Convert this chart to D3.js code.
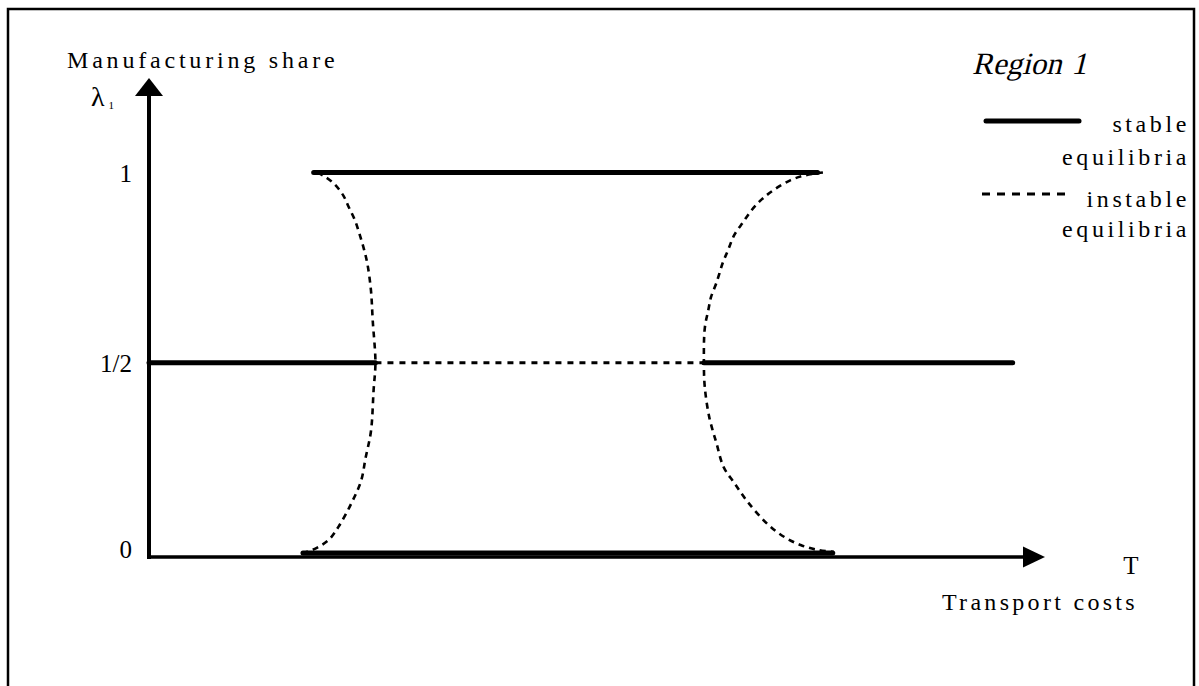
<!DOCTYPE html>
<html>
<head>
<meta charset="utf-8">
<script src="https://cdn.jsdelivr.net/npm/d3@7"></script>
<style>
  body { margin: 0; background: #fff; }
  svg text { font-family: "Liberation Serif", "Times New Roman", serif; fill: #000; }
</style>
</head>
<body>
<script>
// chart values (T = transport costs, lambda = manufacturing share of region 1)
var tickValues = [0, 0.5, 1];
var tickLabels = ["0", "1/2", "1"];

// stable equilibria segments: [T start, T end, lambda]
var stableSegments = [
  [18.4, 74.7, 1],
  [0, 25.3, 0.5],
  [62.0, 96.5, 0.5],
  [17.2, 76.4, 0]
];
// instable equilibria on the symmetric line
var instableSegments = [
  [25.3, 62.0, 0.5]
];

// left bifurcation curve, top to bottom
var leftCurveT =      [18.8, 19.6, 20.7, 21.7, 22.3, 23.0, 23.5, 24.0, 24.4, 24.8, 25.0, 25.3, 25.1, 24.8, 24.2, 23.7, 22.6, 21.2, 20.1, 18.7, 17.3];
var leftCurveLambda = [1.0, 0.99, 0.97, 0.94, 0.91, 0.875, 0.84, 0.80, 0.76, 0.69, 0.61, 0.5, 0.43, 0.32, 0.25, 0.19, 0.13, 0.07, 0.035, 0.013, 0];

// right bifurcation curve, top to bottom
var rightCurveT =      [75.3, 73.4, 71.7, 69.8, 68.4, 67.3, 66.4, 65.4, 64.7, 64.1, 63.4, 62.8, 62.5, 62.1, 62.0, 62.1, 62.6, 63.4, 64.2, 65.4, 66.9, 69.2, 71.0, 72.8, 74.7, 76.5];
var rightCurveLambda = [1.0, 0.993, 0.98, 0.954, 0.928, 0.90, 0.87, 0.836, 0.796, 0.762, 0.71, 0.673, 0.639, 0.591, 0.5, 0.436, 0.357, 0.289, 0.226, 0.184, 0.134, 0.074, 0.042, 0.021, 0.008, 0.003];

var width = 1199, height = 686;
var serif = "'Liberation Serif', 'Times New Roman', serif";

var svg = d3.select("body").append("svg")
    .attr("width", width)
    .attr("height", height);

// frame (open at the bottom)
svg.append("path")
    .attr("d", "M8,686 L8,9 L1194,9 L1194,686")
    .attr("fill", "none")
    .attr("stroke", "#000")
    .attr("stroke-width", 2.5);

// set the ranges
var x = d3.scaleLinear().domain([0, 100]).range([149, 1044]);
var y = d3.scaleLinear().domain([0, 1]).range([553, 172.5]);

var axisY = 557;

// axes with arrow heads
svg.append("line")
    .attr("x1", x(0)).attr("x2", x(0))
    .attr("y1", axisY + 2).attr("y2", 92)
    .attr("stroke", "#000").attr("stroke-width", 4);
svg.append("path")
    .attr("d", "M" + (x(0) - 14) + ",96 L" + x(0) + ",78 L" + (x(0) + 14) + ",96 Z")
    .attr("fill", "#000");

svg.append("line")
    .attr("x1", x(0) - 2).attr("x2", 1026)
    .attr("y1", axisY).attr("y2", axisY)
    .attr("stroke", "#000").attr("stroke-width", 3.5);
svg.append("path")
    .attr("d", "M1023," + (axisY - 10.5) + " L1045," + axisY + " L1023," + (axisY + 10.5) + " Z")
    .attr("fill", "#000");

// y tick labels
var yAxis = svg.append("g")
    .attr("transform", "translate(" + x(0) + ",0)")
    .call(d3.axisLeft(y)
      .tickValues(tickValues)
      .tickFormat(function(d, i) { return tickLabels[i]; })
      .tickSize(0)
      .tickPadding(17));
yAxis.select(".domain").remove();
yAxis.attr("font-family", serif);
yAxis.selectAll("text")
    .attr("font-family", serif)
    .attr("font-size", 25)
    .attr("dy", function(d) { return d === 0 ? "0.16em" : "0.34em"; });

// line generators
var line = d3.line()
    .x(function(d) { return x(d[0]); })
    .y(function(d) { return y(d[1]); });
var curve = d3.line()
    .x(function(d) { return x(d[0]); })
    .y(function(d) { return y(d[1]); })
    .curve(d3.curveCatmullRom);

// instable equilibria (dashed)
instableSegments.forEach(function(s) {
  svg.append("path")
      .datum([[s[0], s[2]], [s[1], s[2]]])
      .attr("fill", "none")
      .attr("stroke", "#000")
      .attr("stroke-width", 3)
      .attr("stroke-dasharray", "6,6")
      .attr("d", line);
});

var curves = [
  d3.zip(leftCurveT, leftCurveLambda),
  d3.zip(rightCurveT, rightCurveLambda)
];
curves.forEach(function(c) {
  svg.append("path")
      .datum(c)
      .attr("fill", "none")
      .attr("stroke", "#000")
      .attr("stroke-width", 2.6)
      .attr("stroke-dasharray", "6,5")
      .attr("d", curve);
});

// stable equilibria (thick)
stableSegments.forEach(function(s) {
  svg.append("path")
      .datum([[s[0], s[2]], [s[1], s[2]]])
      .attr("fill", "none")
      .attr("stroke", "#000")
      .attr("stroke-width", 5)
      .attr("stroke-linecap", "round")
      .attr("d", line);
});

// axis titles
svg.append("text")
    .attr("x", 67).attr("y", 68)
    .attr("font-family", serif)
    .attr("font-size", 24)
    .attr("letter-spacing", 3.8)
    .text("Manufacturing share");

var lam = svg.append("text")
    .attr("x", 91).attr("y", 106)
    .attr("font-family", serif)
    .attr("font-size", 28);
lam.append("tspan").text("λ");
lam.append("tspan").attr("font-size", 11).attr("dx", 4).attr("dy", 3).text("1");

svg.append("text")
    .attr("x", 1131).attr("y", 574)
    .attr("text-anchor", "middle")
    .attr("font-family", serif)
    .attr("font-size", 25)
    .text("T");

svg.append("text")
    .attr("x", 942).attr("y", 610)
    .attr("font-family", serif)
    .attr("font-size", 24)
    .attr("letter-spacing", 3.3)
    .text("Transport costs");

// legend title, slanted serif
svg.append("g")
    .attr("transform", "translate(972,74)")
  .append("text")
    .attr("transform", "skewX(-14)")
    .attr("font-family", serif)
    .attr("font-size", 31)
    .attr("word-spacing", 2)
    .text("Region 1");

svg.append("line")
    .attr("x1", 986).attr("x2", 1079)
    .attr("y1", 121).attr("y2", 121)
    .attr("stroke", "#000").attr("stroke-width", 5)
    .attr("stroke-linecap", "round");
svg.append("line")
    .attr("x1", 982).attr("x2", 1069)
    .attr("y1", 194).attr("y2", 194)
    .attr("stroke", "#000").attr("stroke-width", 3)
    .attr("stroke-dasharray", "8,7");

var legendLines = [["stable", 132], ["equilibria", 165], ["instable", 207], ["equilibria", 237]];
legendLines.forEach(function(l) {
  svg.append("text")
      .attr("x", 1190).attr("y", l[1])
      .attr("text-anchor", "end")
      .attr("font-family", serif)
      .attr("font-size", 24)
      .attr("letter-spacing", 3.6)
      .text(l[0]);
});
</script>
</body>
</html>
